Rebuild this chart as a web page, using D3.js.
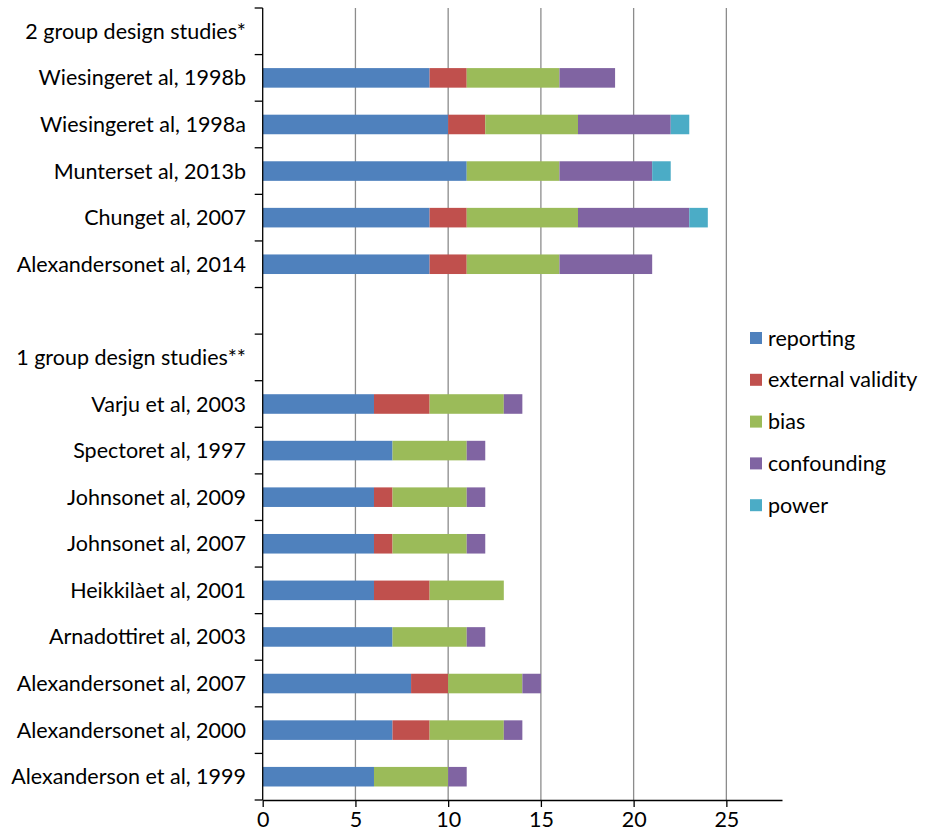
<!DOCTYPE html>
<html><head><meta charset="utf-8">
<script src="https://cdn.jsdelivr.net/npm/d3@7"></script>
<style>body{margin:0;background:#fff}text{font-family:Lato,"Open Sans",sans-serif;fill:#000}</style>
</head><body><svg id="c" width="933" height="832"></svg>
<script>
const categories = ["2 group design studies*","Wiesingeret al, 1998b","Wiesingeret al, 1998a","Munterset al, 2013b","Chunget al, 2007","Alexandersonet al, 2014"," ","1 group design studies**","Varju et al, 2003","Spectoret al, 1997","Johnsonet al, 2009","Johnsonet al, 2007","Heikkilàet al, 2001","Arnadottiret al, 2003","Alexandersonet al, 2007","Alexandersonet al, 2000","Alexanderson et al, 1999"];
const seriesNames = ["reporting","external validity","bias","confounding","power"];
const colors = ["#4F81BD","#C0504D","#9BBB59","#8064A2","#4BACC6"];
const reporting   = [0,9,10,11,9,9,0,0,6,7,6,6,6,7,8,7,6];
const extValidity = [0,2,2,0,2,2,0,0,3,0,1,1,3,0,2,2,0];
const bias        = [0,5,5,5,6,5,0,0,4,4,4,4,4,4,4,4,4];
const confounding = [0,3,5,5,6,5,0,0,1,1,1,1,0,1,1,1,1];
const power       = [0,0,1,1,1,0,0,0,0,0,0,0,0,0,0,0,0];
const xTicks = [0,5,10,15,20,25];
const xMax = 28;

const seriesVals = [reporting,extValidity,bias,confounding,power];
const rows = categories.map((c,i)=>{const o={cat:c};seriesNames.forEach((s,j)=>o[s]=seriesVals[j][i]);return o;});
const stack = d3.stack().keys(seriesNames)(rows);

const svg = d3.select("#c");
const L=262.7, R=782, T=8, B=800;
const x = d3.scaleLinear().domain([0,xMax]).range([L,R]);
const y = d3.scaleBand().domain(categories).range([T,B]).paddingInner(0.58).paddingOuter(0.29);

// gridlines
svg.append("g").selectAll("line").data(xTicks.filter(t=>t>0)).join("line")
  .attr("x1",d=>x(d)).attr("x2",d=>x(d)).attr("y1",T).attr("y2",B)
  .attr("stroke","#8c8c8c").attr("stroke-width",1.3);

// bars
svg.append("g").selectAll("g").data(stack).join("g").attr("fill",(d,i)=>colors[i])
  .selectAll("rect").data(d=>d.filter(v=>v[1]-v[0]>0)).join("rect")
  .attr("x",d=>x(d[0])).attr("width",d=>x(d[1])-x(d[0]))
  .attr("y",d=>y(d.data.cat)).attr("height",y.bandwidth());

// y axis
const step = (B-T)/categories.length;
const yAxis = svg.append("g");
yAxis.append("line").attr("x1",L).attr("x2",L).attr("y1",T).attr("y2",B).attr("stroke","#000").attr("stroke-width",1.3);
yAxis.selectAll("line.t").data(d3.range(categories.length+1)).join("line").attr("class","t")
  .attr("x1",L-8).attr("x2",L).attr("y1",i=>T+i*step).attr("y2",i=>T+i*step).attr("stroke","#000").attr("stroke-width",1.3);
yAxis.selectAll("text").data(categories).join("text")
  .attr("x",246).attr("y",d=>y(d)+y.bandwidth()/2).attr("dy","0.35em").attr("text-anchor","end")
  .attr("font-size",21.5).text(d=>d.trim());

// x axis
const xAxis = svg.append("g").attr("transform",`translate(0,${B})`)
  .call(d3.axisBottom(x).tickValues(xTicks).tickSize(7).tickPadding(5).tickSizeOuter(0));
xAxis.select(".domain").attr("stroke","#000").attr("stroke-width",1.3);
xAxis.selectAll(".tick line").attr("stroke","#000").attr("stroke-width",1.3);
xAxis.selectAll(".tick text").attr("font-size",21.5).attr("font-family","Lato,sans-serif").attr("fill","#000");

// legend
const lg = svg.append("g");
seriesNames.forEach((s,i)=>{
  const cy = 338 + i*41.8;
  lg.append("rect").attr("x",750).attr("y",cy-6).attr("width",12).attr("height",12).attr("fill",colors[i]);
  lg.append("text").attr("x",768).attr("y",cy).attr("dy","0.35em").attr("font-size",21.5).text(s);
});
</script></body></html>
